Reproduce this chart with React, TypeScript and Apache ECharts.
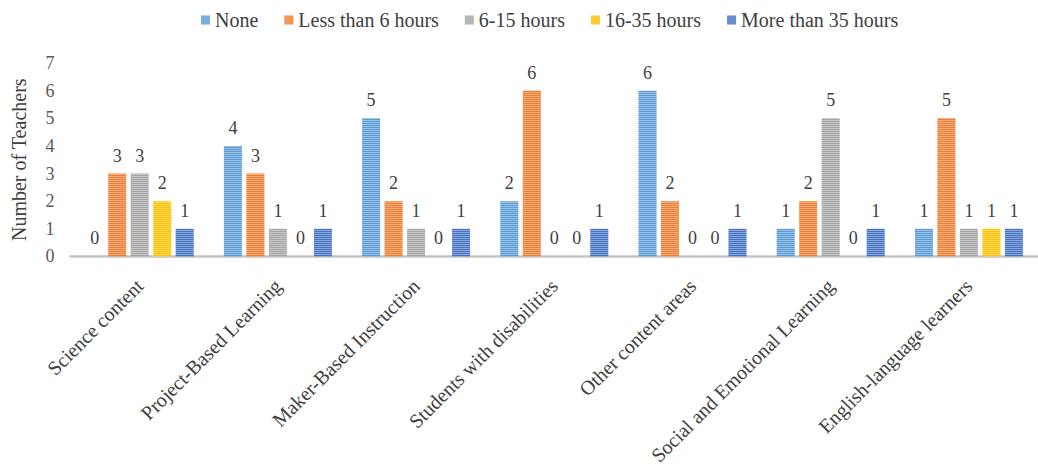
import React, { useEffect, useRef } from "react";
import * as echarts from "echarts";

const categories = [
  "Science content",
  "Project-Based Learning",
  "Maker-Based Instruction",
  "Students with disabilities",
  "Other content areas",
  "Social and Emotional Learning",
  "English-language learners",
];

const seriesNames = ["None", "Less than 6 hours", "6-15 hours", "16-35 hours", "More than 35 hours"];

const noneValues = [0, 4, 5, 2, 6, 1, 1];
const lessThan6Values = [3, 3, 2, 6, 2, 2, 5];
const h6to15Values = [3, 1, 1, 0, 0, 5, 1];
const h16to35Values = [2, 0, 0, 0, 0, 0, 1];
const moreThan35Values = [1, 1, 1, 1, 1, 1, 1];

const yTicks = [0, 1, 2, 3, 4, 5, 6, 7];

const palette = ["#5B9BD5", "#ED7D31", "#A5A5A5", "#FFC000", "#4472C4"];
const FONT = "Liberation Serif";

export default function App() {
  const ref = useRef<HTMLDivElement>(null);

  useEffect(() => {
    if (!ref.current) return;
    const chart = echarts.init(ref.current, undefined, { renderer: "svg" });
    const allValues = [noneValues, lessThan6Values, h6to15Values, h16to35Values, moreThan35Values];

    // thin horizontal stripes over each bar
    const stripe = {
      symbol: "rect",
      symbolSize: 1,
      dashArrayX: [1, 0],
      dashArrayY: [1, 1],
      rotation: 0,
      color: "rgba(255,255,255,0.38)",
    };

    chart.setOption({
      animation: false,
      aria: { enabled: true, decal: { show: true } },
      color: palette,
      textStyle: { fontFamily: FONT },
      legend: {
        left: 196,
        top: 5,
        icon: "rect",
        itemWidth: 9,
        itemHeight: 9,
        itemGap: 26,
        textStyle: { fontFamily: FONT, fontSize: 20, color: "#404040" },
        data: seriesNames,
      },
      grid: { left: 70.6, top: 63, width: 975, height: 200.7 },
      xAxis: {
        type: "category",
        data: categories,
        axisTick: { show: false },
        axisLine: { show: true, lineStyle: { color: "#C4C4C4", width: 2.5 } },
        axisLabel: {
          rotate: 45,
          interval: 0,
          margin: 26,
          fontFamily: FONT,
          fontSize: 20,
          color: "#404040",
        },
      },
      yAxis: {
        type: "value",
        min: yTicks[0],
        max: yTicks[yTicks.length - 1],
        interval: 1,
        name: "Number of Teachers",
        nameLocation: "middle",
        nameGap: 42,
        nameTextStyle: { fontFamily: FONT, fontSize: 20, color: "#404040" },
        splitLine: { show: false },
        axisLine: { show: false },
        axisTick: { show: false },
        axisLabel: { margin: 16, fontFamily: FONT, fontSize: 18, color: "#595959" },
      },
      series: seriesNames.map((name, i) => ({
        name,
        type: "bar",
        data: allValues[i],
        barWidth: 18,
        barGap: "25%",
        itemStyle: {
          color: palette[i],
          decal: stripe,
        },
        label: {
          show: true,
          position: "top",
          distance: 9,
          fontFamily: FONT,
          fontSize: 18,
          color: "#404040",
        },
      })),
    });

    return () => chart.dispose();
  }, []);

  return (
    <div
      ref={ref}
      style={{ position: "absolute", left: 0, top: 0, width: 1038, height: 468 }}
    />
  );
}
